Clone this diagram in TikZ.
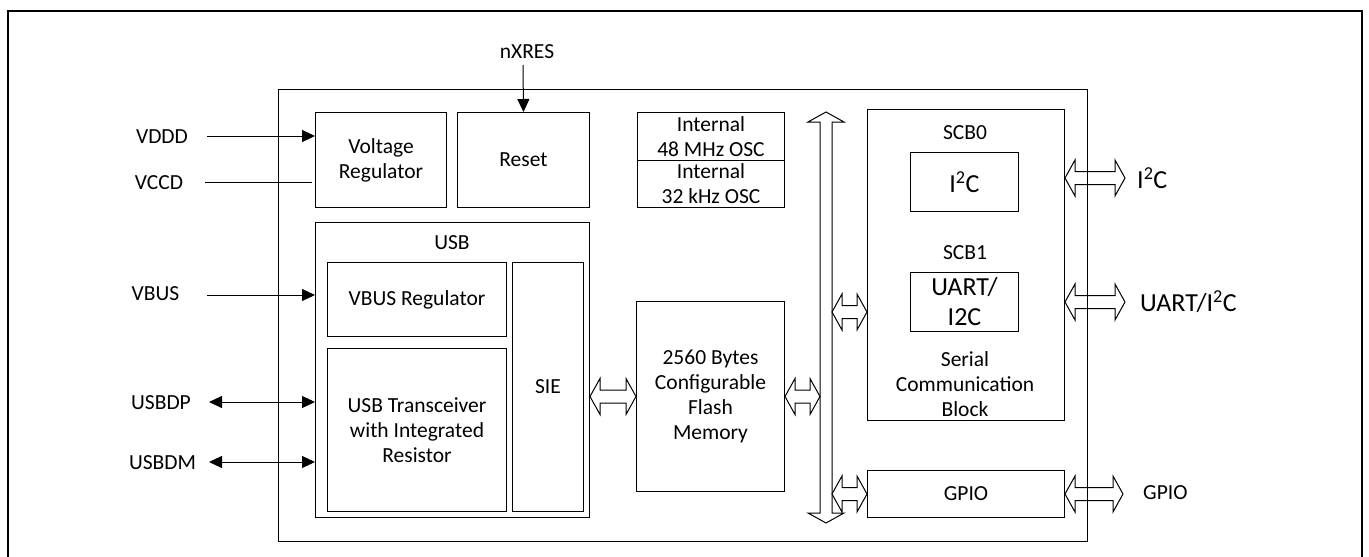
\documentclass[tikz,border=0pt]{standalone}
\usepackage{fontspec}
\setmainfont{Carlito}
\usetikzlibrary{calc,arrows.meta}
\tikzset{
  box/.style={draw, line width=1pt, inner sep=0pt, align=center, anchor=north west, font=\fontsize{21.5}{25}\selectfont},
  lbl/.style={inner sep=0pt, align=center, font=\fontsize{21.5}{25}\selectfont},
  biglbl/.style={inner sep=0pt, align=center, font=\fontsize{26}{30}\selectfont},
  sig/.style={line width=1pt, -{Triangle[length=13pt,width=12pt]}},
  sigboth/.style={line width=1pt, {Triangle[length=13pt,width=12pt]}-{Triangle[length=13pt,width=12pt]}},
  plain/.style={line width=1pt},
  holl/.style={line width=1pt, line join=miter},
}
\newcommand{\holH}[2]{%
  \draw[holl] let \p1=#1, \p2=#2 in
  (\x1,\y1) -- (\x1+10pt,\y1+18pt) -- (\x1+10pt,\y1+6.5pt) -- (\x2-10pt,\y1+6.5pt)
  -- (\x2-10pt,\y1+18pt) -- (\x2,\y1) -- (\x2-10pt,\y1-18pt) -- (\x2-10pt,\y1-6.5pt)
  -- (\x1+10pt,\y1-6.5pt) -- (\x1+10pt,\y1-18pt) -- cycle;}
\begin{document}
\begin{tikzpicture}[x=1pt,y=-1pt]
\useasboundingbox (0,0) rectangle (1369,557);
% outer frame (open at the bottom)
\draw[line width=2pt] (8,557) -- (8,11) -- (1362,11) -- (1362,557);
% chip
\node[box, minimum width=809pt, minimum height=452pt] (chip) at (278,88.5) {};
\node[box, minimum width=131pt, minimum height=95pt] (vreg) at (315,112) {Voltage\\Regulator};
\node[box, minimum width=132pt, minimum height=95pt] (reset) at (457,112) {Reset};
\node[box, minimum width=147pt, minimum height=48pt] (osca) at (637,112) {Internal\\48 MHz OSC};
\node[box, minimum width=147pt, minimum height=47pt] (oscb) at (637,160) {Internal\\32 kHz OSC};
\node[box, minimum width=274pt, minimum height=295pt] (usb) at (315,222) {};
\node[lbl] (usbl) at (452,243) {USB};
\node[box, minimum width=179pt, minimum height=74pt] (vbusreg) at (327,262) {VBUS Regulator};
\node[box, minimum width=179pt, minimum height=163pt] (xcvr) at (327,348) {USB Transceiver\\with Integrated\\Resistor};
\node[box, minimum width=71pt, minimum height=249pt] (sie) at (512,262) {SIE};
\node[box, minimum width=148pt, minimum height=190pt] (flash) at (636,301) {2560 Bytes\\Configurable\\Flash\\Memory};
\node[box, minimum width=197pt, minimum height=311pt] (scb) at (867,109) {};
\node[lbl] (scb0) at (965,133) {SCB0};
\node[box, minimum width=108pt, minimum height=59pt, font=\fontsize{26}{30}\selectfont] (i2c) at (910,152) {I\textsuperscript{2}C};
\node[lbl] (scb1) at (965,253) {SCB1};
\node[box, minimum width=108pt, minimum height=59pt, font=\fontsize{26}{30}\selectfont] (uart) at (910,272) {UART/\\I2C};
\node[lbl] (scbl) at (965,384) {Serial\\Communication\\Block};
\node[box, minimum width=197pt, minimum height=47pt] (gpio) at (867,470) {GPIO};
% external labels
\node[lbl] (vddd) at (162,137) {VDDD};
\node[lbl] (vccd) at (159,183) {VCCD};
\node[lbl] (vbus) at (155.5,294) {VBUS};
\node[lbl] (usbdp) at (161,403) {USBDP};
\node[lbl] (usbdm) at (162.5,463) {USBDM};
\node[lbl] (nxres) at (527,52) {nXRES};
\node[biglbl, anchor=west] (i2cx) at (1137,178) {I\textsuperscript{2}C};
\node[biglbl, anchor=west] (uartx) at (1140,302) {UART/I\textsuperscript{2}C};
\node[lbl, anchor=west] (gpiox) at (1143,493) {GPIO};
% connector start points
\coordinate (vdddS) at (207,136);
\coordinate (vccdS) at (205,182);
\coordinate (vbusS) at (207,295);
\coordinate (usbdpS) at (209,402);
\coordinate (usbdmS) at (209,462);
\coordinate (nxresS) at (523,65);
\coordinate (i2cE) at (1125,178);
\coordinate (uartE) at (1125,302);
\coordinate (gpioE) at (1123,493);
\coordinate (bustop) at (826,112);
\coordinate (busbot) at (826,523);
% signals
\draw[sig] (vdddS) -- (vdddS -| vreg.west);
\draw[plain] (vccdS) -- ([xshift=-3pt]vccdS -| vreg.west);
\draw[sig] (vbusS) -- (vbusS -| usb.west);
\draw[sigboth] (usbdpS) -- (usbdpS -| usb.west);
\draw[sigboth] (usbdmS) -- (usbdmS -| usb.west);
\draw[sig] (nxresS) -- (reset.north);
% bus
\draw[holl] let \p1=(bustop), \p2=(busbot) in
  (\x1,\y1) -- (\x1+18pt,\y1-10pt) -- (\x1+6pt,\y1-10pt) -- (\x2+6pt,\y2+10pt)
  -- (\x2+18pt,\y2+10pt) -- (\x2,\y2) -- (\x2-18pt,\y2+10pt) -- (\x2-6pt,\y2+10pt)
  -- (\x1-6pt,\y1-10pt) -- (\x1-18pt,\y1-10pt) -- cycle;
% hollow arrows
\holH{(usb.east |- flash)}{(flash.west)}
\holH{(flash.east)}{([xshift=-6pt]bustop |- flash)}
\holH{([xshift=6pt]bustop |- 0,312)}{(scb.west |- 0,312)}
\holH{([xshift=6pt]bustop |- gpio)}{(gpio.west)}
\holH{(scb.east |- i2cE)}{(i2cE)}
\holH{(scb.east |- uartE)}{(uartE)}
\holH{(gpio.east)}{(gpioE)}
\end{tikzpicture}
\end{document}
